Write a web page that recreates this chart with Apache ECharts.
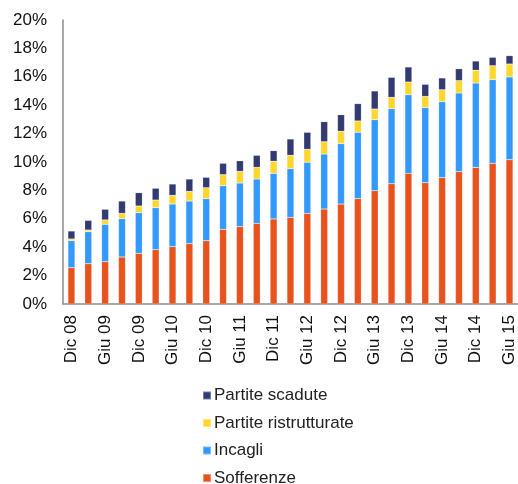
<!DOCTYPE html>
<html>
<head>
<meta charset="utf-8">
<script src="https://cdn.jsdelivr.net/npm/echarts@6/dist/echarts.min.js"></script>
<style>
html,body{margin:0;padding:0;background:#fff;}
#chart{width:518px;height:484px;}
</style>
</head>
<body>
<div id="chart"></div>
<script>
const categories = ["Dic 08","Mar 09","Giu 09","Set 09","Dic 09","Mar 10","Giu 10","Set 10","Dic 10","Mar 11","Giu 11","Set 11","Dic 11","Mar 12","Giu 12","Set 12","Dic 12","Mar 13","Giu 13","Set 13","Dic 13","Mar 14","Giu 14","Set 14","Dic 14","Mar 15","Giu 15"];
const sofferenze = [2.56,2.84,2.98,3.31,3.57,3.83,4.04,4.25,4.46,5.26,5.45,5.68,5.99,6.10,6.38,6.69,7.04,7.42,7.98,8.47,9.20,8.54,8.90,9.32,9.62,9.91,10.16];
const incagli = [1.90,2.25,2.63,2.70,2.86,2.95,3.00,3.00,2.96,3.07,3.07,3.12,3.21,3.43,3.60,3.87,4.25,4.67,5.00,5.29,5.54,5.29,5.35,5.54,5.94,5.89,5.83];
const ristrutturate = [0.12,0.12,0.31,0.37,0.47,0.54,0.61,0.68,0.77,0.78,0.82,0.82,0.85,0.94,0.91,0.87,0.87,0.80,0.75,0.79,0.89,0.79,0.84,0.87,0.90,0.98,0.91];
const scadute = [0.56,0.68,0.75,0.87,0.94,0.83,0.80,0.87,0.73,0.80,0.75,0.85,0.75,1.15,1.20,1.41,1.17,1.22,1.27,1.41,1.06,0.85,0.83,0.84,0.65,0.59,0.59];
const yTicks = {min:0, max:20, interval:2};

const FONT = '"Liberation Sans", Arial, sans-serif';
const chart = echarts.init(document.getElementById('chart'), null, {renderer:'canvas'});
function bar(name, data, color){
  return {name, type:'bar', stack:'tot', data, barWidth:7,
    itemStyle:{color, borderColor:'rgba(255,255,255,0.35)', borderWidth:0.5},
    emphasis:{disabled:true}};
}
chart.setOption({
  animation:false,
  textStyle:{fontFamily:FONT},
  grid:{left:63, right:0, top:20, bottom:180, containLabel:false},
  legend:{
    orient:'vertical', left:197, top:382, height:115, width:250,
    icon:'rect', itemWidth:8, itemHeight:8, itemGap:10.5,
    textStyle:{fontFamily:FONT, fontSize:17, color:'#222', padding:[0,0,0,-2]},
    data:['Partite scadute','Partite ristrutturate','Incagli','Sofferenze']
  },
  xAxis:{
    type:'category', data:categories,
    axisLine:{lineStyle:{color:'#8c8c8c', width:1.5}},
    axisTick:{show:false},
    axisLabel:{rotate:90, interval:1, fontFamily:FONT, fontSize:17, color:'#111', margin:11}
  },
  yAxis:{
    type:'value', min:yTicks.min, max:yTicks.max, interval:yTicks.interval,
    axisLine:{show:true, lineStyle:{color:'#8c8c8c', width:1.5}},
    axisTick:{show:false},
    splitLine:{show:false},
    axisLabel:{formatter:'{value}%', fontFamily:FONT, fontSize:17, color:'#111', margin:16}
  },
  series:[
    bar('Sofferenze', sofferenze, '#E8521C'),
    bar('Incagli', incagli, '#3399FF'),
    bar('Partite ristrutturate', ristrutturate, '#FFD62E'),
    bar('Partite scadute', scadute, '#323A72')
  ]
});
</script>
</body>
</html>
